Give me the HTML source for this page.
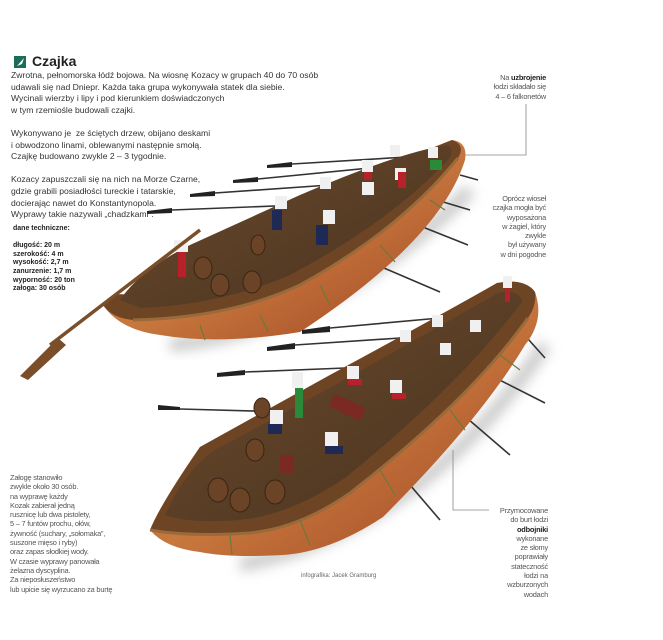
<!DOCTYPE html><html><head><meta charset="utf-8"><style>
body{margin:0;width:663px;height:640px;background:#fff;position:relative;overflow:hidden;font-family:"Liberation Sans",sans-serif;color:#333}
.t{position:absolute;white-space:nowrap}
.p{font-size:8.6px;line-height:11.6px;color:#333}
.s{font-size:7.4px;line-height:9.3px;color:#555;letter-spacing:-0.2px}
.r{text-align:right}
</style></head><body>
<svg width="663" height="640" style="position:absolute;left:0;top:0">
<defs>
<linearGradient id="st" x1="0" y1="0" x2="1" y2="1"><stop offset="0" stop-color="#9a5530"/><stop offset=".5" stop-color="#c8783e"/><stop offset="1" stop-color="#a04422"/></linearGradient>
<linearGradient id="dk" x1="0" y1="0" x2="1" y2="1"><stop offset="0" stop-color="#6a4a2c"/><stop offset="1" stop-color="#4a3320"/></linearGradient>
<filter id="bl"><feGaussianBlur stdDeviation="6"/></filter>
</defs>
<rect x="14" y="56" width="12" height="12" fill="#1c6c5a"/><path d="M17 66 L24 58 L22 64Z" fill="#fff"/>
<path d="M170 345 Q330 330 470 190" stroke="#ccc" stroke-width="14" fill="none" filter="url(#bl)"/>
<path d="M240 565 Q420 530 545 345" stroke="#ccc" stroke-width="14" fill="none" filter="url(#bl)"/>
<g stroke="#333" stroke-width="1.6">
<line x1="292" y1="164" x2="440" y2="155"/><line x1="258" y1="179" x2="400" y2="165"/><line x1="215" y1="193" x2="330" y2="185"/><line x1="172" y1="210" x2="300" y2="205"/>
<line x1="460" y1="175" x2="478" y2="180"/><line x1="420" y1="195" x2="470" y2="210"/><line x1="400" y1="218" x2="468" y2="245"/><line x1="330" y1="245" x2="440" y2="292"/>
</g>
<g fill="#222"><path d="M292 162 l-25 3 v3 l25 -1z"/><path d="M258 177 l-25 3 v3 l25 -1z"/><path d="M215 191 l-25 3 v3 l25 -1z"/><path d="M172 208 l-25 3 v3 l25 -1z"/></g>
<path d="M103 305 Q115 290 130 296 L300 210 Q400 160 452 140 Q468 142 465 160 Q440 240 300 332 Q220 345 160 335 Q120 330 103 305Z" fill="url(#st)"/>
<path d="M103 305 Q115 290 130 296 L300 210 Q400 160 452 140 Q466 145 458 158 Q400 230 300 285 Q230 318 133 320 Q112 318 103 305Z" fill="#6e4524"/>
<path d="M120 300 Q140 270 190 245 L300 195 Q400 152 448 145 Q455 150 448 160 Q390 222 290 275 Q220 305 140 308Z" fill="url(#dk)"/>
<path d="M133 320 Q230 318 300 285 Q400 230 458 158" stroke="#9a6a3a" stroke-width="3" fill="none"/>
<g stroke="#333" stroke-width="1.6">
<line x1="330" y1="328" x2="440" y2="318"/><line x1="295" y1="345" x2="400" y2="338"/><line x1="245" y1="372" x2="345" y2="368"/><line x1="180" y1="409" x2="290" y2="412"/>
<line x1="520" y1="330" x2="545" y2="358"/><line x1="470" y1="365" x2="545" y2="403"/><line x1="440" y1="395" x2="510" y2="455"/><line x1="380" y1="450" x2="440" y2="520"/>
</g>
<g fill="#222"><path d="M330 326 l-28 4 v4 l28 -2z"/><path d="M295 343 l-28 4 v4 l28 -2z"/><path d="M245 370 l-28 3 v4 l28 -2z"/><path d="M180 407 l-22 -2 v5 l22 0z"/></g>
<path d="M150 530 Q160 505 200 447 L330 375 Q450 310 497 283 Q525 278 535 292 Q545 320 525 345 Q480 420 383 517 Q330 552 283 555 Q230 558 200 552 Q165 548 150 530Z" fill="url(#st)"/>
<path d="M150 530 Q160 505 200 447 L330 375 Q450 310 497 283 Q525 278 535 292 Q537 305 528 318 Q470 400 350 493 Q300 528 250 533 Q190 537 150 530Z" fill="#6e4524"/>
<path d="M165 515 Q185 470 215 450 L335 385 Q450 320 500 292 Q520 290 522 302 Q460 385 345 478 Q290 515 240 520 Q190 524 165 515Z" fill="url(#dk)"/>
<path d="M150 530 Q190 537 250 533 Q300 528 350 493 Q470 400 528 318" stroke="#9a6a3a" stroke-width="3" fill="none"/>
<g stroke="#6a7a3a" stroke-width="1.2"><line x1="200" y1="325" x2="205" y2="340"/><line x1="260" y1="315" x2="268" y2="332"/><line x1="320" y1="285" x2="330" y2="305"/><line x1="380" y1="245" x2="395" y2="262"/><line x1="430" y1="200" x2="445" y2="210"/>
<line x1="230" y1="535" x2="232" y2="555"/><line x1="300" y1="520" x2="310" y2="545"/><line x1="380" y1="470" x2="395" y2="495"/><line x1="450" y1="410" x2="465" y2="430"/><line x1="500" y1="355" x2="520" y2="370"/></g>
<g fill="#6b4427" stroke="#3a2413" stroke-width="1"><ellipse cx="203" cy="268" rx="9" ry="11"/><ellipse cx="220" cy="285" rx="9" ry="11"/><ellipse cx="252" cy="282" rx="9" ry="11"/><ellipse cx="258" cy="245" rx="7" ry="10"/>
<ellipse cx="218" cy="490" rx="10" ry="12"/><ellipse cx="240" cy="500" rx="10" ry="12"/><ellipse cx="255" cy="450" rx="9" ry="11"/><ellipse cx="275" cy="492" rx="10" ry="12"/><ellipse cx="262" cy="408" rx="8" ry="10"/></g>
<g fill="#7a2a22"><rect x="330" y="400" width="35" height="14" rx="4" transform="rotate(25 347 407)"/><rect x="280" y="455" width="14" height="18" rx="3"/></g>
<g fill="#f0f0f0"><rect x="275" y="196" width="12" height="13"/><rect x="323" y="210" width="12" height="14"/><rect x="320" y="177" width="11" height="12"/><rect x="362" y="160" width="11" height="12"/><rect x="362" y="182" width="12" height="13"/><rect x="395" y="168" width="11" height="12"/><rect x="390" y="145" width="10" height="11"/><rect x="428" y="147" width="10" height="11"/><rect x="174" y="240" width="14" height="12"/>
<rect x="270" y="410" width="13" height="14"/><rect x="325" y="432" width="13" height="14"/><rect x="292" y="372" width="11" height="16"/><rect x="347" y="366" width="12" height="13"/><rect x="390" y="380" width="12" height="13"/><rect x="400" y="330" width="11" height="12"/><rect x="432" y="315" width="11" height="12"/><rect x="440" y="343" width="11" height="12"/><rect x="470" y="320" width="11" height="12"/><rect x="503" y="276" width="9" height="12"/></g>
<g fill="#1e2a55"><rect x="272" y="210" width="10" height="20"/><rect x="316" y="225" width="12" height="20"/><rect x="268" y="424" width="14" height="10"/><rect x="325" y="446" width="18" height="8"/></g>
<g fill="#b8202a"><rect x="178" y="252" width="8" height="25"/><rect x="348" y="379" width="14" height="6"/><rect x="392" y="393" width="14" height="6"/><rect x="398" y="172" width="8" height="16"/><rect x="364" y="172" width="8" height="8"/><rect x="505" y="288" width="5" height="14"/></g>
<g fill="#2a8a3a"><rect x="295" y="388" width="8" height="30"/><rect x="430" y="160" width="12" height="10"/></g>
<path d="M200 230 L50 345" stroke="#7a4e28" stroke-width="3.5"/>
<path d="M58 338 L20 376 L28 380 L66 345Z" fill="#7a4e28"/>
<polyline points="526,104 526,155 462,155" fill="none" stroke="#888" stroke-width="0.8"/>
<polyline points="453,450 453,510 489,510" fill="none" stroke="#888" stroke-width="0.8"/>
</svg>
<div class="t" style="left:32px;top:53px;font-size:14px;font-weight:bold;color:#222">Czajka</div>
<div class="t p" style="left:11px;top:70px">Zwrotna, pełnomorska łódź bojowa. Na wiosnę Kozacy w grupach 40 do 70 osób<br>udawali się nad Dniepr. Każda taka grupa wykonywała statek dla siebie.<br>Wycinali wierzby i lipy i pod kierunkiem doświadczonych<br>w tym rzemiośle budowali czajki.<br><br>Wykonywano je &nbsp;ze ściętych drzew, obijano deskami<br>i obwodzono linami, oblewanymi następnie smołą.<br>Czajkę budowano zwykle 2 – 3 tygodnie.<br><br>Kozacy zapuszczali się na nich na Morze Czarne,<br>gdzie grabili posiadłości tureckie i tatarskie,<br>docierając nawet do Konstantynopola.<br>Wyprawy takie nazywali „chadzkami”.</div>
<div class="t" style="left:13px;top:225px;font-size:7px;line-height:8.6px;font-weight:bold;color:#222">dane techniczne:<br><br>długość: 20 m<br>szerokość: 4 m<br>wysokość: 2,7 m<br>zanurzenie: 1,7 m<br>wyporność: 20 ton<br>załoga: 30 osób</div>
<div class="t s r" style="right:117px;top:73px">Na <b style="color:#222">uzbrojenie</b><br>łodzi składało się<br>4 – 6 falkonetów</div>
<div class="t s r" style="right:117px;top:194px">Oprócz wioseł<br>czajka mogła być<br>wyposażona<br>w żagiel, który<br>zwykle<br>był używany<br>w dni pogodne</div>
<div class="t s" style="left:10px;top:473px">Załogę stanowiło<br>zwykle około 30 osób.<br>na wyprawę każdy<br>Kozak zabierał jedną<br>rusznicę lub dwa pistolety,<br>5 – 7 funtów prochu, ołów,<br>żywność (suchary, „sołomaka”,<br>suszone mięso i ryby)<br>oraz zapas słodkiej wody.<br>W czasie wyprawy panowała<br>żelazna dyscyplina.<br>Za nieposłuszeństwo<br>lub upicie się wyrzucano za burtę</div>
<div class="t s r" style="right:115px;top:506px">Przymocowane<br>do burt łodzi<br><b style="color:#222">odbojniki</b><br>wykonane<br>ze słomy<br>poprawiały<br>stateczność<br>łodzi na<br>wzburzonych<br>wodach</div>
<div class="t" style="left:301px;top:573px;font-size:6px;color:#666">infografika: Jacek Gramburg</div>
</body></html>
